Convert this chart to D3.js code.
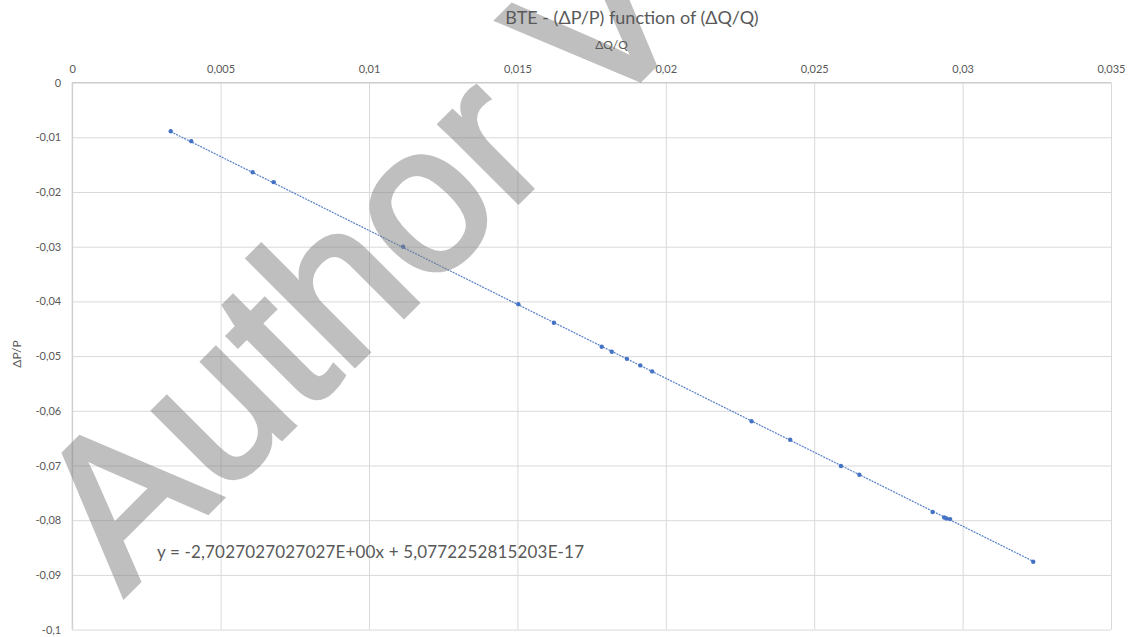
<!DOCTYPE html>
<html>
<head>
<meta charset="utf-8">
<script src="https://cdn.jsdelivr.net/npm/d3@7"></script>
<style>
  body { margin: 0; background: #fff; }
  svg { display: block; }
</style>
</head>
<body>
<svg id="chart" width="1129" height="637"></svg>
<script>
// data
var xValues = [0.00332, 0.00401, 0.00608, 0.00679, 0.01115, 0.01503, 0.01623, 0.01784, 0.01818,
  0.01869, 0.01914, 0.01954, 0.02289, 0.02419, 0.02590, 0.02652, 0.02899, 0.02938, 0.02946,
  0.02958, 0.03238];
var yValues = [-0.0089, -0.0107, -0.0164, -0.0182, -0.0300, -0.0405, -0.0439, -0.0483, -0.0492,
  -0.0505, -0.0517, -0.0528, -0.0619, -0.0653, -0.0701, -0.0717, -0.0785, -0.0795, -0.0797,
  -0.0798, -0.0876];
var xTicks = [0, 0.005, 0.01, 0.015, 0.02, 0.025, 0.03, 0.035];
var yTicks = [0, -0.01, -0.02, -0.03, -0.04, -0.05, -0.06, -0.07, -0.08, -0.09, -0.1];
var slope = -2.7027027027027;
var intercept = 5.0772252815203e-17;

var chartTitle = "BTE - (\u0394P/P) function of (\u0394Q/Q)";
var xTitle = "\u0394Q/Q";
var yTitle = "\u0394P/P";
var trendLabel = "y = -2,7027027027027E+00x + 5,0772252815203E-17";
var watermark = "Author V";

var svg = d3.select("#chart");
var margin = {top: 82.6, left: 72.2, right: 18, bottom: 7.4};
var width = 1129 - margin.left - margin.right,
    height = 637 - margin.top - margin.bottom;

var loc = d3.formatLocale({decimal: ",", thousands: ".", grouping: [3], currency: ["", ""], minus: "-"});
var fmt = loc.format("~g");

var x = d3.scaleLinear().domain([0, 0.035]).range([0, width]);
var y = d3.scaleLinear().domain([0, -0.1]).range([0, height]);

var g = svg.append("g").attr("transform", "translate(" + margin.left + "," + margin.top + ")");

// gridlines
g.append("g")
  .call(d3.axisTop(x).tickValues(xTicks).tickSize(-height).tickFormat(""))
  .call(function(s) {
    s.select(".domain").remove();
    s.selectAll("line").attr("stroke", "#d9d9d9");
  });
g.append("g")
  .call(d3.axisLeft(y).tickValues(yTicks).tickSize(-width).tickFormat(""))
  .call(function(s) {
    s.select(".domain").remove();
    s.selectAll("line").attr("stroke", "#d9d9d9");
  });
g.append("line").attr("x1", 0).attr("x2", width).attr("y1", 0).attr("y2", 0).attr("stroke", "#c8c8c8");
g.append("line").attr("x1", 0).attr("x2", 0).attr("y1", 0).attr("y2", height).attr("stroke", "#c8c8c8");

// watermark (thickened with a stroke, group opacity so overlaps stay even)
svg.append("g")
  .attr("opacity", 0.5)
  .append("text")
  .attr("transform", "translate(124,596) rotate(-45)")
  .attr("font-family", "Liberation Sans, Arial, sans-serif")
  .attr("font-size", 208)
  .attr("fill", "#808080")
  .attr("stroke", "#808080")
  .attr("stroke-width", 5)
  .text(watermark);

// trendline
var x0 = d3.min(xValues), x1 = d3.max(xValues);
g.append("line")
  .attr("x1", x(x0)).attr("y1", y(slope * x0 + intercept))
  .attr("x2", x(x1)).attr("y2", y(slope * x1 + intercept))
  .attr("stroke", "#4472c4")
  .attr("stroke-width", 1.2)
  .attr("stroke-opacity", 0.9)
  .attr("stroke-dasharray", "2,1");

// markers
g.selectAll(".pt")
  .data(d3.zip(xValues, yValues))
  .enter().append("circle")
  .attr("class", "pt")
  .attr("cx", function(d) { return x(d[0]); })
  .attr("cy", function(d) { return y(d[1]); })
  .attr("r", 2.2)
  .attr("fill", "#4472c4");

// tick labels
g.append("g")
  .call(d3.axisTop(x).tickValues(xTicks).tickSize(0).tickPadding(10).tickFormat(fmt))
  .call(function(s) {
    s.select(".domain").remove();
    s.selectAll("text").attr("fill", "#595959").attr("font-family", "Lato, sans-serif").attr("font-size", 11);
  });
g.append("g")
  .call(d3.axisLeft(y).tickValues(yTicks).tickSize(0).tickPadding(11).tickFormat(fmt))
  .call(function(s) {
    s.select(".domain").remove();
    s.selectAll("text").attr("fill", "#595959").attr("font-family", "Lato, sans-serif").attr("font-size", 11);
  });

// titles
svg.append("text")
  .attr("x", 632).attr("y", 24)
  .attr("text-anchor", "middle")
  .attr("font-family", "Lato, sans-serif")
  .attr("font-size", 18)
  .attr("fill", "#595959")
  .text(chartTitle);

svg.append("text")
  .attr("x", 611.5).attr("y", 49)
  .attr("text-anchor", "middle")
  .attr("font-family", "Lato, sans-serif")
  .attr("font-size", 12)
  .attr("fill", "#595959")
  .text(xTitle);

svg.append("text")
  .attr("transform", "translate(21,354) rotate(-90)")
  .attr("text-anchor", "middle")
  .attr("font-family", "Lato, sans-serif")
  .attr("font-size", 12)
  .attr("fill", "#595959")
  .text(yTitle);

svg.append("text")
  .attr("x", 157).attr("y", 558)
  .attr("font-family", "Lato, sans-serif")
  .attr("font-size", 17)
  .attr("fill", "#595959")
  .attr("textLength", 427)
  .text(trendLabel);
</script>
</body>
</html>
